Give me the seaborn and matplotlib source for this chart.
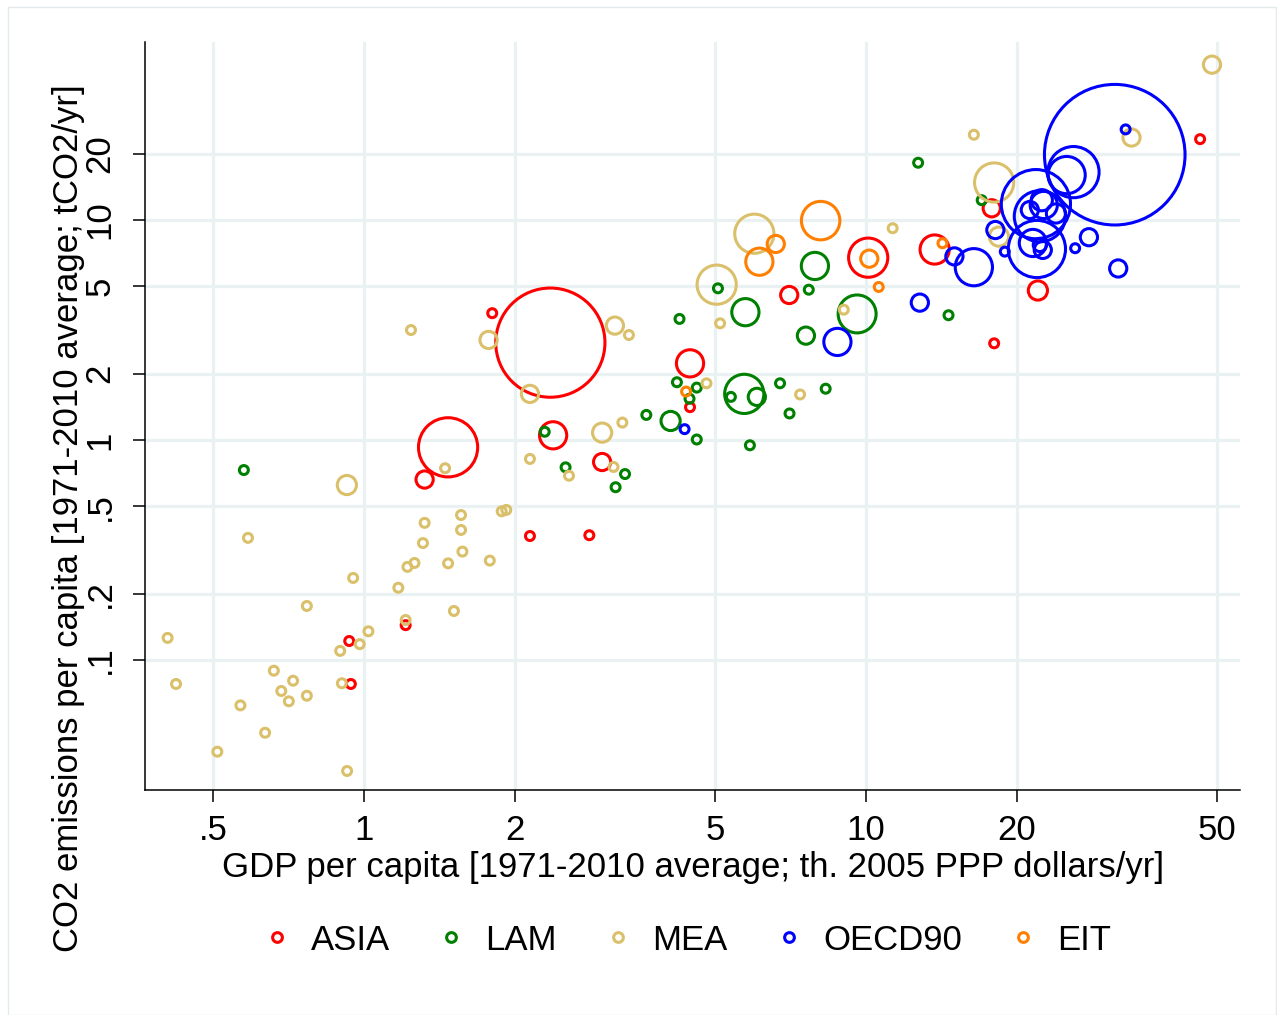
import numpy as np
import pandas as pd
import matplotlib
matplotlib.use("Agg")
import matplotlib.pyplot as plt
import seaborn as sns
from matplotlib.lines import Line2D
from matplotlib.patches import Rectangle

# ---------------- data ----------------
regions = ["ASIA", "LAM", "MEA", "OECD90", "EIT"]
colors = ["#FF0000", "#008000", "#DAC06A", "#0000FF", "#FF8000"]

# GDP per capita (th. 2005 PPP $/yr), CO2 per capita (tCO2/yr), total CO2 (Mt/yr, bubble size)
gdp_asia = [2.35, 1.47, 1.32, 1.80, 2.38, 2.98, 2.14, 2.81, 1.21, 0.934, 0.941,
            4.46, 4.46, 7.03, 10.1, 13.7, 17.8, 22.0, 18.0, 46.3]
co2_asia = [2.77, 0.926, 0.661, 3.77, 1.05, 0.794, 0.366, 0.369, 0.144, 0.122, 0.0778,
            2.23, 1.41, 4.56, 6.74, 7.34, 11.3, 4.78, 2.75, 23.3]
tot_asia = [2981, 876, 74, 20, 185, 74, 20, 20, 20, 20, 20,
            185, 20, 74, 384, 213, 74, 92, 20, 20]

gdp_lam = [0.576, 2.29, 2.52, 3.31, 3.17, 3.65, 4.08, 4.60, 4.20, 4.60, 4.45, 4.25,
           5.07, 5.75, 5.72, 5.38, 6.06, 5.87, 6.74, 7.04, 8.31, 7.69, 7.91, 7.59,
           9.60, 14.6, 12.7, 17.0]
co2_lam = [0.730, 1.09, 0.751, 0.700, 0.610, 1.30, 1.22, 1.005, 1.83, 1.73, 1.54, 3.55,
           4.89, 3.81, 1.62, 1.57, 1.57, 0.946, 1.81, 1.32, 1.71, 4.82, 6.18, 2.98,
           3.74, 3.69, 18.2, 12.3]
tot_lam = [20, 20, 20, 20, 20, 20, 92, 20, 20, 20, 20, 20,
           20, 185, 384, 20, 74, 20, 20, 20, 20, 20, 185, 74,
           360, 20, 20, 20]

gdp_mea = [0.924, 1.45, 1.24, 1.77, 3.16, 3.37, 2.14, 2.98, 3.27, 2.14, 2.56, 3.14,
           4.81, 5.12, 5.04, 5.99, 7.39, 9.03, 11.3, 16.4, 18.0, 18.4, 33.8, 48.9,
           0.587, 1.56, 1.32, 1.88, 1.92, 1.56, 1.31, 1.57, 1.26, 1.22, 1.47, 1.78,
           0.951, 1.17, 0.769, 1.51, 1.21, 0.406, 1.02, 0.980, 0.896, 0.422, 0.661,
           0.722, 0.684, 0.903, 0.769, 0.708, 0.567, 0.635, 0.510, 0.925]
co2_mea = [0.624, 0.744, 3.16, 2.85, 3.31, 3.00, 1.62, 1.08, 1.20, 0.820, 0.688, 0.754,
           1.81, 3.39, 5.08, 8.66, 1.61, 3.91, 9.17, 24.4, 14.8, 8.40, 23.7, 50.8,
           0.359, 0.456, 0.420, 0.474, 0.481, 0.390, 0.340, 0.311, 0.276, 0.265, 0.275, 0.283,
           0.236, 0.213, 0.176, 0.167, 0.152, 0.126, 0.135, 0.118, 0.110, 0.0778, 0.0894,
           0.0805, 0.0723, 0.0784, 0.0688, 0.0649, 0.0622, 0.0467, 0.0383, 0.0313]
tot_mea = [92, 20, 20, 74, 74, 20, 74, 92, 20, 20, 20, 20,
           20, 20, 384, 384, 20, 20, 20, 20, 384, 92, 74, 74,
           20, 20, 20, 20, 20, 20, 20, 20, 20, 20, 20, 20,
           20, 20, 20, 20, 20, 20, 20, 20, 20, 20, 20,
           20, 20, 20, 20, 20, 20, 20, 20, 20]

gdp_oecd = [31.3, 32.9, 4.35, 8.77, 12.8, 15.0, 16.4, 18.1, 31.8, 27.8, 26.1, 25.1,
            25.9, 21.8, 21.2, 23.9, 22.2, 21.9, 21.5, 22.2, 22.5, 18.9, 22.6, 22.4]
co2_oecd = [19.8, 25.8, 1.12, 2.79, 4.21, 6.83, 6.10, 9.00, 6.02, 8.35, 7.44, 16.0,
            16.5, 11.8, 11.1, 10.7, 10.4, 7.38, 7.86, 7.70, 7.31, 7.18, 11.7, 12.3]
tot_oecd = [4940, 20, 20, 185, 74, 74, 346, 74, 74, 74, 20, 346,
            655, 1197, 74, 92, 655, 818, 185, 44, 74, 20, 185, 112]

gdp_eit = [8.12, 6.61, 6.13, 10.15, 10.6, 14.2, 4.38]
co2_eit = [9.93, 7.78, 6.46, 6.67, 4.96, 7.84, 1.66]
tot_eit = [370, 74, 185, 74, 20, 20, 20]

x_ticks = [0.5, 1, 2, 5, 10, 20, 50]
x_ticklabels = [".5", "1", "2", "5", "10", "20", "50"]
y_ticks = [0.1, 0.2, 0.5, 1, 2, 5, 10, 20]
y_ticklabels = [".1", ".2", ".5", "1", "2", "5", "10", "20"]

x_title = "GDP per capita [1971-2010 average; th. 2005 PPP dollars/yr]"
y_title = "CO2 emissions per capita [1971-2010 average; tCO2/yr]"

# ---------------- table ----------------
parts = []
for reg, g, c, t in [("ASIA", gdp_asia, co2_asia, tot_asia),
                     ("LAM", gdp_lam, co2_lam, tot_lam),
                     ("MEA", gdp_mea, co2_mea, tot_mea),
                     ("OECD90", gdp_oecd, co2_oecd, tot_oecd),
                     ("EIT", gdp_eit, co2_eit, tot_eit)]:
    parts.append(pd.DataFrame({"region": reg, "gdp": g, "co2": c, "total": t}))
df = pd.concat(parts, ignore_index=True)

# ---------------- figure ----------------
sns.set_theme(style="white")
plt.rcParams["font.family"] = ["Liberation Sans", "DejaVu Sans"]
plt.rcParams["text.color"] = "black"

W, H = 1277, 1015
fig = plt.figure(figsize=(W / 100, H / 100), dpi=100)
fig.patch.set_facecolor("white")
L, R, T, B = 145, 1240, 42, 790
ax = fig.add_axes([L / W, 1 - B / H, (R - L) / W, (B - T) / H])
ax.set_xscale("log")
ax.set_yscale("log")

palette = dict(zip(regions, colors))
max_tot = 5000
sns.scatterplot(data=df, x="gdp", y="co2", hue="region", hue_order=regions,
                palette=palette, size="total", sizes=(0, 2.0736 * max_tot),
                size_norm=(0, max_tot), legend=False, ax=ax, linewidth=0, zorder=3)
for coll in ax.collections:
    fc = coll.get_facecolors()
    coll.set_edgecolors(fc)
    coll.set_facecolors("none")
    coll.set_linewidths(2.2)

ax.set_xlim(0.366, 55.6)
ax.set_ylim(0.02565, 64.4)

ax.set_xticks(x_ticks, labels=x_ticklabels)
ax.set_yticks(y_ticks, labels=y_ticklabels, rotation=90, va="center")
ax.minorticks_off()
ax.tick_params(axis="both", which="major", direction="out", length=8.6, width=1.1,
               color="black", labelsize=25, labelcolor="black", left=True, bottom=True)
ax.tick_params(axis="x", pad=9)
ax.tick_params(axis="y", pad=12)

ax.grid(True, which="major", color="#EAF1F3", linewidth=2.3, zorder=0)
ax.set_axisbelow(True)
for s in ["top", "right"]:
    ax.spines[s].set_visible(False)
for s in ["left", "bottom"]:
    ax.spines[s].set_color("black")
    ax.spines[s].set_linewidth(1.1)
ax.set_xlabel("")
ax.set_ylabel("")

fig.text(693 / W, 1 - 877 / H, x_title, ha="center", va="baseline", fontsize=25, color="black")
fig.text(78 / W, 1 - 518 / H, y_title, ha="center", va="baseline", rotation=90,
         rotation_mode="anchor", fontsize=25, color="black")

handles = [Line2D([], [], linestyle="none", marker="o", markersize=7.0,
                  markerfacecolor="none", markeredgecolor=c, markeredgewidth=2.2)
           for c in colors]
fig.legend(handles, regions, loc="center", bbox_to_anchor=(687 / W, 1 - 940 / H),
           ncol=5, frameon=False, fontsize=25, handlelength=0.8, handletextpad=0.58,
           columnspacing=1.37, borderaxespad=0, borderpad=0, labelcolor="black")

fig.patches.append(Rectangle((8 / W, 0), (W - 9) / W, 1 - 7 / H, transform=fig.transFigure,
                             fill=False, edgecolor="#E3EAEC", linewidth=1.0))

fig.savefig("out.png", dpi=100, facecolor="white")
